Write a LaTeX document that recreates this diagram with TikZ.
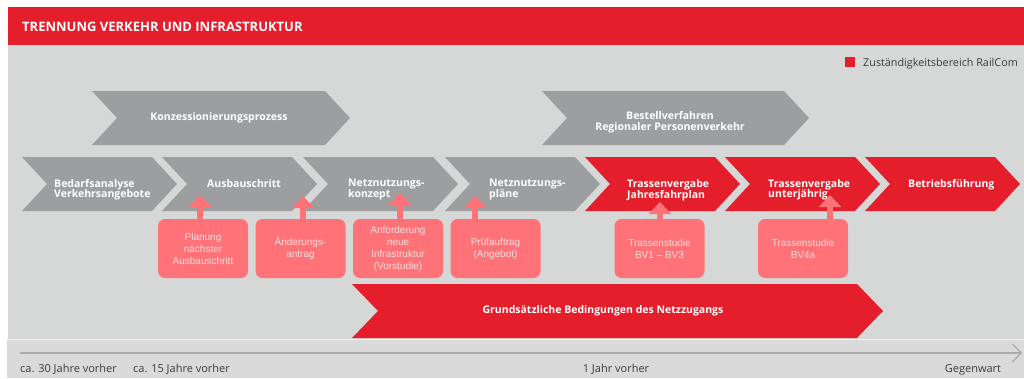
\documentclass[tikz,border=0pt]{standalone}
\usepackage{fontspec}
\setmainfont{Open Sans}
\newfontfamily\boxfont{Liberation Sans}
\usetikzlibrary{arrows.meta}
\definecolor{signalred}{RGB}{228, 30, 43}
\definecolor{ashgray}{RGB}{157, 158, 160}
\definecolor{panelgray}{RGB}{214, 216, 215}
\definecolor{bandgray}{RGB}{217, 218, 217}
\definecolor{salmon}{RGB}{255, 115, 120}
\definecolor{blush}{RGB}{255, 222, 222}
\definecolor{axisgray}{RGB}{170, 171, 171}
\definecolor{inkgray}{RGB}{60, 60, 60}

\begin{document}
\begin{tikzpicture}[x=1pt, y=-1pt,
    steplabel/.style={font=\bfseries\fontsize{10.5}{10.5}\selectfont, text=white, align=left, inner sep=0pt},
    studybox/.style={fill=salmon, rounded corners=7pt, minimum width=90pt, minimum height=59pt, inner sep=0pt,
                     text=blush, align=center, font=\boxfont\fontsize{10}{12}\selectfont},
    studyarrow/.style={draw=salmon, line width=6pt, -{Triangle[length=12pt, width=22pt]}},
    timelabel/.style={font=\fontsize{11}{12}\selectfont, text=inkgray, inner sep=0pt}]
            \useasboundingbox (0,0) rectangle (1024,378);
            \fill[white]       (0,0)   rectangle (1024,378);
            \fill[signalred]   (8,7)   rectangle (1024,45);
            \fill[panelgray]   (8,45)  rectangle (1024,339);
            \fill[bandgray]    (7,339) rectangle (1024,378);
            \draw[white!60!bandgray, line width=1pt] (7,339.5) -- (1024,339.5);
            \node[font=\bfseries\fontsize{13}{13}\selectfont, text=white, inner sep=0pt, anchor=base west] (title) at (22,31.7) {TRENNUNG VERKEHR UND INFRASTRUKTUR};
            \fill[signalred]   (845,57) rectangle (855,67);
            \node[font=\fontsize{10.8}{12}\selectfont, text=inkgray, inner sep=0pt, anchor=base west] (legend) at (863,66.5) {Zuständigkeitsbereich RailCom};

            \fill[ashgray]   ( 92, 91) -- (325, 91) -- (350,118) -- (325,145) -- ( 92,145) -- (117,118) -- cycle;
            \fill[ashgray]   (542, 91) -- (784, 91) -- (809,118) -- (784,145) -- (542,145) -- (567,118) -- cycle;
            \fill[ashgray]   ( 22,157) -- (152,157) -- (177,184) -- (152,211) -- ( 22,211) -- ( 47,184) -- cycle;
            \fill[ashgray]   (162,157) -- (292,157) -- (317,184) -- (292,211) -- (162,211) -- (187,184) -- cycle;
            \fill[ashgray]   (303,157) -- (433,157) -- (458,184) -- (433,211) -- (303,211) -- (328,184) -- cycle;
            \fill[ashgray]   (445,157) -- (575,157) -- (600,184) -- (575,211) -- (445,211) -- (470,184) -- cycle;
            \fill[signalred] (585,157) -- (715,157) -- (740,184) -- (715,211) -- (585,211) -- (610,184) -- cycle;
            \fill[signalred] (725,157) -- (855,157) -- (880,184) -- (855,211) -- (725,211) -- (750,184) -- cycle;
            \fill[signalred] (865,157) -- (995,157) -- (1020,184) -- (995,211) -- (865,211) -- (890,184) -- cycle;
            \fill[signalred] (352,284) -- (857,284) -- (883,311) -- (857,338) -- (352,338) -- (378,311) -- cycle;

            \node[steplabel, align=center] (konz)    at (219,118) {Konzessionierungsprozess};
            \node[steplabel, align=center] (bestell) at (670,122) {Bestellverfahren\\Regionaler Personenverkehr};
            \node[steplabel, anchor=north west] (bedarf)  at (54,179)  {Bedarfsanalyse\\Verkehrsangebote};
            \node[steplabel, anchor=north west] (ausbau)  at (207,179) {Ausbauschritt};
            \node[steplabel, anchor=north west] (konzept) at (348,179) {Netznutzungs-\\konzept};
            \node[steplabel, anchor=north west] (plaene)  at (489,179) {Netznutzungs-\\pläne};
            \node[steplabel, anchor=north west] (jahres)  at (627,179) {Trassenvergabe\\Jahresfahrplan};
            \node[steplabel, anchor=north west] (unterj)  at (768,179) {Trassenvergabe\\unterjährig};
            \node[steplabel, anchor=north west] (betrieb) at (908,179) {Betriebsführung};
            \node[steplabel, align=center] (zugang)  at (603,311) {Grundsätzliche Bedingungen des Netzzugangs};

            \node[studybox] (planung)  at (203,248.5) {Planung\\nächster\\Ausbauschritt};
            \node[studybox] (aenderung) at (300.5,248.5) {Änderungs-\\antrag};
            \node[studybox] (anford)   at (398,248.5) {Anforderung\\neue\\Infrastruktur\\(Vorstudie)};
            \node[studybox] (pruef)    at (495.5,248.5) {Prüfauftrag\\(Angebot)};
            \node[studybox] (bv13)     at (659.5,248.5) {Trassenstudie\\BV1 – BV3};
            \node[studybox] (bv4a)     at (803,248.5) {Trassenstudie\\BV4a};

            \coordinate (tplanung)   at (200,195);
            \coordinate (taenderung) at (303,196);
            \coordinate (tanford)    at (400,193);
            \coordinate (tpruef)     at (475,196);
            \coordinate (tbv13)      at (660,202);
            \coordinate (tbv4a)      at (830,195);
            \draw[studyarrow] (tplanung |- planung.north)     -- (tplanung);
            \draw[studyarrow] (taenderung |- aenderung.north) -- (taenderung);
            \draw[studyarrow] (tanford |- anford.north)       -- (tanford);
            \draw[studyarrow] (tpruef |- pruef.north)         -- (tpruef);
            \draw[studyarrow] (tbv13 |- bv13.north)           -- (tbv13);
            \draw[studyarrow] (tbv4a |- bv4a.north)           -- (tbv4a);

            \coordinate (axstart) at (20,353);
            \coordinate (axend)   at (1022,353);
            \draw[axisgray, line width=1.8pt, -{Straight Barb[length=9pt, width=18pt, line width=1.2pt]}] (axstart) -- (axend);
            \node[timelabel, anchor=base west] (t30)  at (20,372.5)  {ca. 30 Jahre vorher};
            \node[timelabel, anchor=base west] (t15)  at (133,372.5) {ca. 15 Jahre vorher};
            \node[timelabel, anchor=base]      (t1)   at (616,372.5) {1 Jahr vorher};
            \node[timelabel, anchor=base]      (tnow) at (973,372.5) {Gegenwart};
\end{tikzpicture}
\end{document}
